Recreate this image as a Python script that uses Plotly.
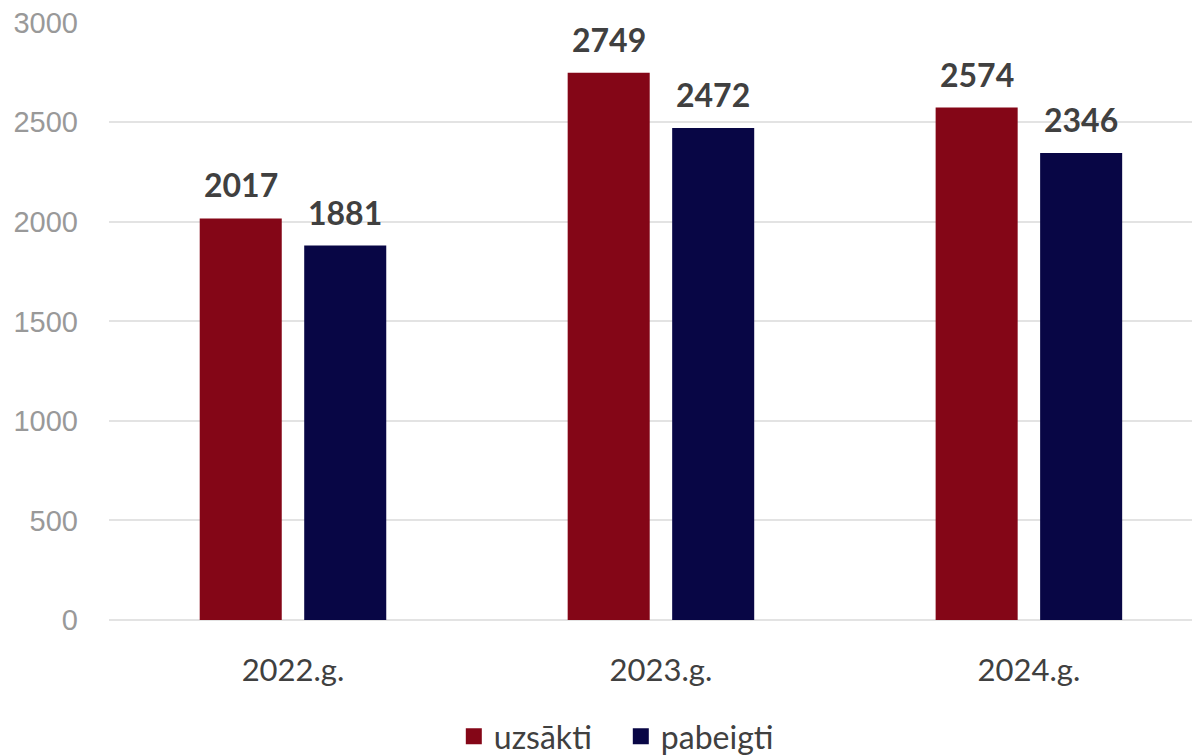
import plotly.graph_objects as go

categories = ["2022.g.", "2023.g.", "2024.g."]
uzsakti = [2017, 2749, 2574]
pabeigti = [1881, 2472, 2346]

red = "#840617"
navy = "#080645"
label_font = dict(family="Lato", size=32, color="#404040", weight="bold")

fig = go.Figure()
fig.add_trace(go.Bar(
    x=categories, y=uzsakti, name="uzsākti", marker=dict(color=red, line=dict(width=0)),
    showlegend=False,
))
fig.add_trace(go.Bar(
    x=categories, y=pabeigti, name="pabeigti", marker=dict(color=navy, line=dict(width=0)),
    showlegend=False,
))
# legend entries with larger square symbols
for name, col in [("uzsākti", red), ("pabeigti", navy)]:
    fig.add_trace(go.Scatter(
        x=[None], y=[None], mode="markers", name=name,
        marker=dict(symbol="square", size=20, color=col),
    ))

# value labels above bars
for vals, shift in [(uzsakti, -52), (pabeigti, 52)]:
    for c, v in zip(categories, vals):
        fig.add_annotation(
            x=c, y=v, text=str(v), showarrow=False, xshift=shift, yshift=12,
            yanchor="bottom", font=label_font,
        )

fig.update_layout(
    width=1192, height=747,
    margin=dict(l=101, r=0, t=14, b=135, autoexpand=False),
    paper_bgcolor="white", plot_bgcolor="white",
    barmode="group", bargap=0.432, bargroupgap=0.215,
    showlegend=True,
    legend=dict(orientation="h", xref="container", yref="container",
                x=0.374, xanchor="left", y=0.025, yanchor="middle",
                font=dict(family="Lato", size=32, color="#404040"),
                traceorder="normal", itemwidth=30, entrywidth=122, entrywidthmode="pixels"),
)
fig.update_xaxes(
    range=[-0.5, 2.465], showgrid=False, showline=False, zeroline=False, automargin=False,
    tickfont=dict(family="Lato", size=31, color="#404040"), ticks="", ticklabelstandoff=29,
)
fig.update_yaxes(
    range=[0, 3004], tickvals=[0, 500, 1000, 1500, 2000, 2500, 3000],
    showgrid=True, gridcolor="#e3e3e3", gridwidth=2,
    zeroline=True, zerolinecolor="#e3e3e3", zerolinewidth=2, showline=False, automargin=False,
    tickfont=dict(family="Liberation Sans", size=29, color="#999999"), ticks="",
    ticklabelstandoff=30, ticklabeloverflow="allow",
)

fig.write_html("out.html")
